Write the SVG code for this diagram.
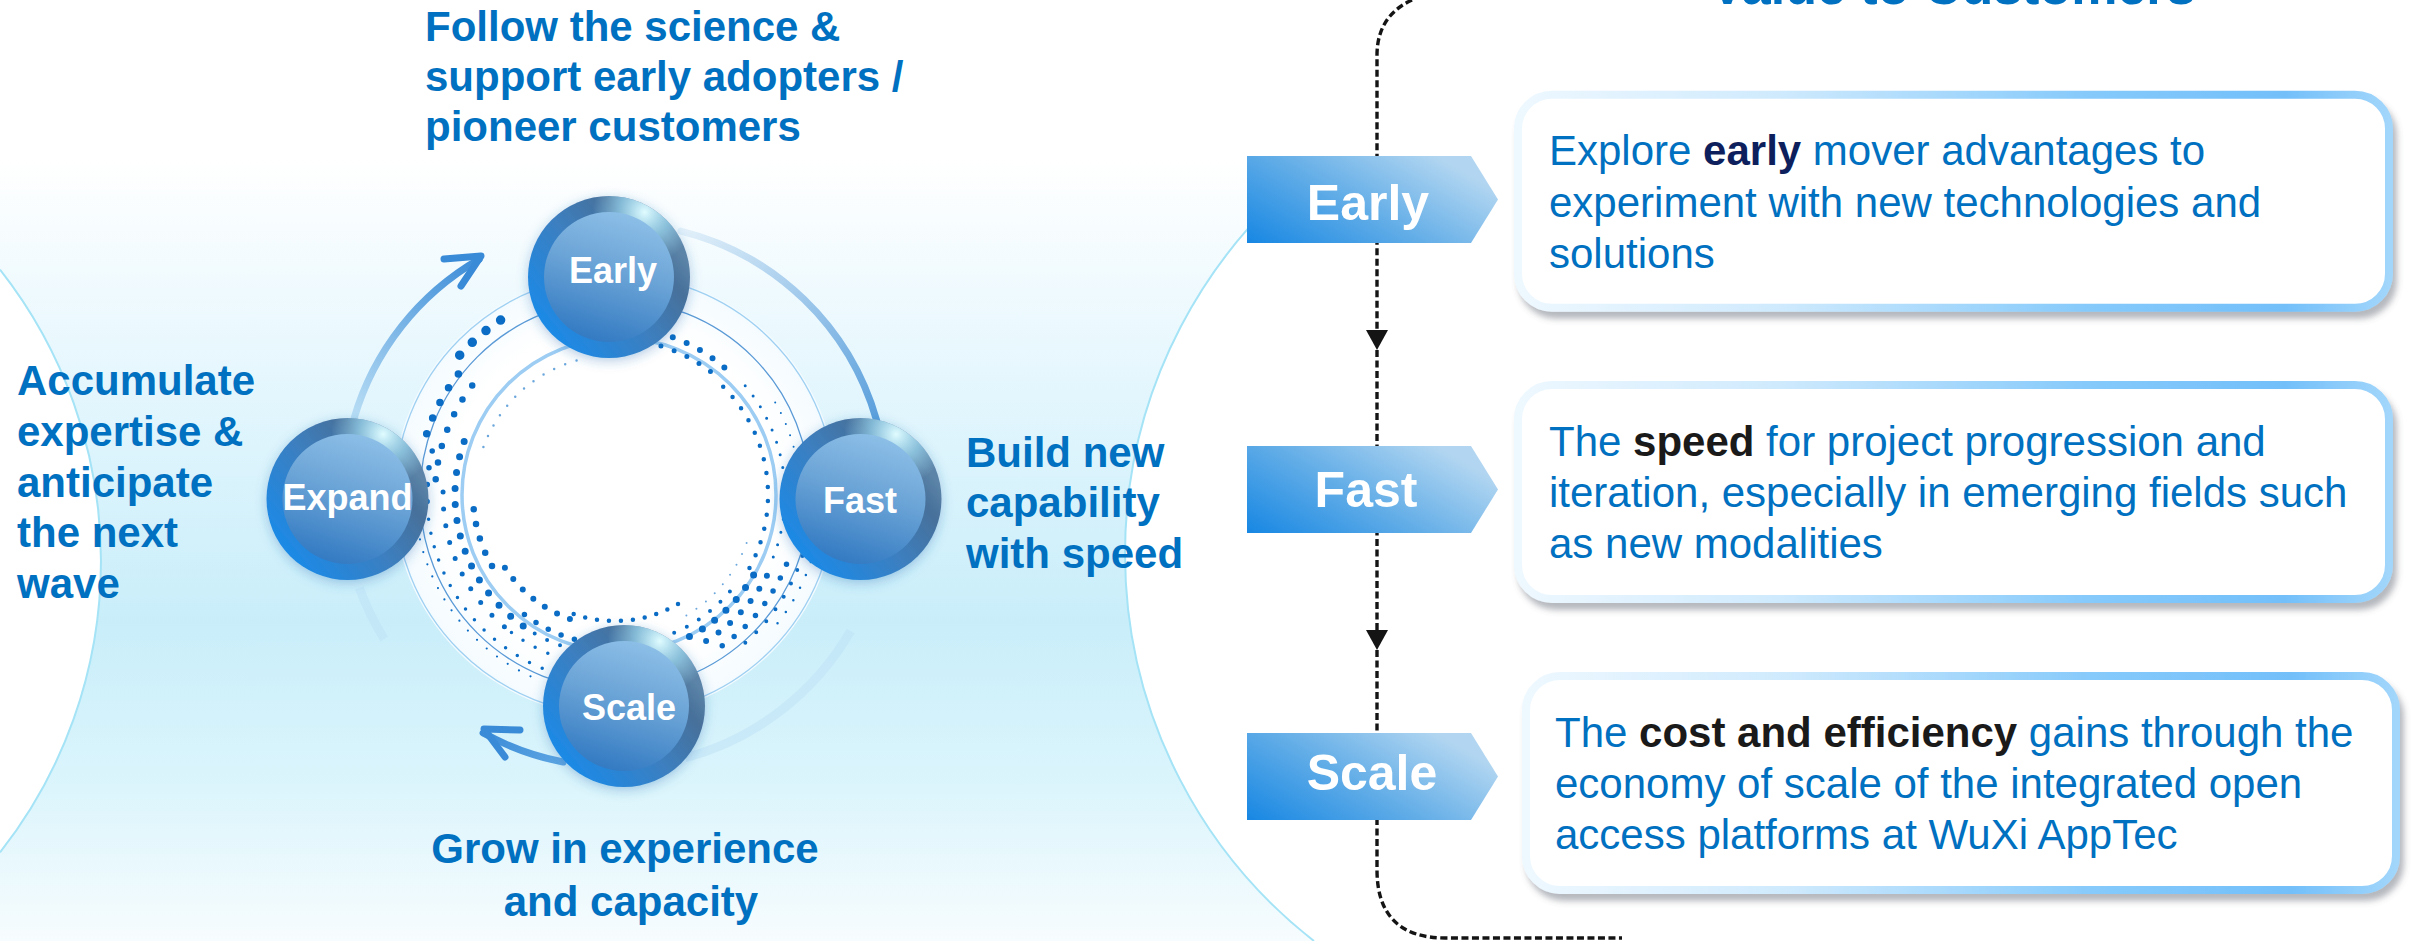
<svg xmlns="http://www.w3.org/2000/svg" width="2415" height="941" viewBox="0 0 2415 941">
<defs>
<style>
.t{font-family:"Liberation Sans",Arial,sans-serif;font-size:42px;font-weight:bold;fill:#0070c0}
.ball{font-family:"Liberation Sans",Arial,sans-serif;font-size:36px;font-weight:bold;fill:#ffffff;text-anchor:middle}
.chevt{font-family:"Liberation Sans",Arial,sans-serif;font-size:50px;font-weight:bold;fill:#ffffff;text-anchor:middle}
.box{font-family:"Liberation Sans",Arial,sans-serif;font-size:42px;fill:#0070c0}
.bn{font-weight:bold;fill:#0d1f5c}
.bk{font-weight:bold;fill:#1a1a1a}
.dots{fill:none;stroke:#0a6cc4;stroke-linecap:round}
.ring{fill:none}
.card{fill:#ffffff;stroke:url(#border);stroke-width:8}
.dash{fill:none;stroke:#141414;stroke-width:3.4;stroke-dasharray:7 3.5}
.head{fill:#141414}
.arr{fill:none;stroke-width:7;stroke-linecap:round;stroke-linejoin:round}
.edge{fill:none;stroke:#a5e3f6;stroke-width:2}
</style>
<linearGradient id="bgGrad" x1="0" y1="0" x2="0" y2="941" gradientUnits="userSpaceOnUse">
<stop offset="0" stop-color="#ffffff"/>
<stop offset="0.17" stop-color="#ffffff"/>
<stop offset="0.42" stop-color="#e3f6fd"/>
<stop offset="0.66" stop-color="#c9eefa"/>
<stop offset="0.84" stop-color="#dcf5fc"/>
<stop offset="1" stop-color="#f7fcfe"/>
</linearGradient>
<radialGradient id="disc" cx="0.5" cy="0.5" r="0.5">
<stop offset="0.75" stop-color="#ffffff"/>
<stop offset="1" stop-color="#f4fbff"/>
</radialGradient>
<linearGradient id="rim" x1="0.15" y1="0.9" x2="0.9" y2="0.3">
<stop offset="0" stop-color="#1a8ae8"/>
<stop offset="0.5" stop-color="#3c7fc0"/>
<stop offset="0.85" stop-color="#47709a"/>
<stop offset="1" stop-color="#5c84a8"/>
</linearGradient>
<radialGradient id="hl" cx="0.72" cy="0.1" r="0.32">
<stop offset="0" stop-color="#e0fcff" stop-opacity="1"/>
<stop offset="0.5" stop-color="#a8e6fb" stop-opacity="0.6"/>
<stop offset="1" stop-color="#a8e6fb" stop-opacity="0"/>
</radialGradient>
<linearGradient id="core" x1="0.65" y1="0" x2="0.35" y2="1">
<stop offset="0" stop-color="#8ec0e8"/>
<stop offset="0.45" stop-color="#6aa3d6"/>
<stop offset="1" stop-color="#3179c2"/>
</linearGradient>
<linearGradient id="chev" x1="0" y1="1" x2="1" y2="0.4">
<stop offset="0" stop-color="#1787e3"/>
<stop offset="0.5" stop-color="#60ace7"/>
<stop offset="1" stop-color="#b2d6f1"/>
</linearGradient>
<linearGradient id="border" x1="0" y1="0" x2="1" y2="0">
<stop offset="0" stop-color="#eef8ff"/>
<stop offset="0.3" stop-color="#cfeafd"/>
<stop offset="0.65" stop-color="#86cafb"/>
<stop offset="0.88" stop-color="#72bffa"/>
<stop offset="1" stop-color="#a2d6fb"/>
</linearGradient>
<linearGradient id="arrL" x1="354" y1="418" x2="480" y2="258" gradientUnits="userSpaceOnUse">
<stop offset="0" stop-color="#b9def5"/>
<stop offset="1" stop-color="#3a8bd7"/>
</linearGradient>
<linearGradient id="arrR" x1="681" y1="231" x2="876" y2="420" gradientUnits="userSpaceOnUse">
<stop offset="0" stop-color="#e3f1fa"/>
<stop offset="1" stop-color="#5a9fdc"/>
</linearGradient>
<linearGradient id="arrB" x1="563" y1="762" x2="483" y2="733" gradientUnits="userSpaceOnUse">
<stop offset="0" stop-color="#5fa6e3"/>
<stop offset="1" stop-color="#3a8bd7"/>
</linearGradient>
<filter id="ballGlow" x="-30%" y="-30%" width="160%" height="160%">
<feDropShadow dx="0" dy="3" stdDeviation="6" flood-color="#2a6fb5" flood-opacity="0.35"/>
</filter>
<filter id="boxShadow" x="-5%" y="-10%" width="112%" height="130%">
<feDropShadow dx="4" dy="7" stdDeviation="3" flood-color="#5a6470" flood-opacity="0.45"/>
</filter>
</defs>

<g id="background">
<rect x="0" y="0" width="2415" height="941" fill="url(#bgGrad)"/>
<path fill="#ffffff" d="M1315,166 A491,491 0 0 0 1314,941 L2415,941 L2415,0 L1315,0 Z"/>
<path class="edge" d="M1315,166 A491,491 0 0 0 1314,941"/>
<path fill="#ffffff" d="M0,269.6 A471,471 0 0 1 0,852.4 Z"/>
<path class="edge" d="M0,269.6 A471,471 0 0 1 0,852.4"/>
</g>

<g id="ring-system">
<circle cx="615" cy="495" r="222" fill="url(#disc)"/>
<circle class="ring" cx="615" cy="495" r="220" stroke="#9fd0f2" stroke-width="1.3"/>
<circle class="ring" cx="615" cy="495" r="195" stroke="#5a9ad6" stroke-width="1.3"/>
<circle class="ring" cx="619" cy="495" r="157" stroke="#9dcdf3" stroke-width="3.5"/>
<path class="dots" stroke-width="9.5" stroke-dasharray="0 18" d="M459.7,355.2 A209,209 0 0 1 510.5,314"/>
<path class="dots" stroke-width="7.5" stroke-dasharray="0 17" d="M426.7,433.8 A198,198 0 0 1 467.9,362.5"/>
<path class="dots" stroke-width="5.5" stroke-dasharray="0 17" d="M427.1,501.6 A188,188 0 0 1 436.2,436.9"/>
<path class="dots" stroke-width="6.5" stroke-dasharray="0 17" d="M435.7,479.3 A180,180 0 0 1 481.2,374.6"/>
<path class="dots" stroke-width="5" stroke-dasharray="0 17" d="M504.4,626.8 A172,172 0 0 1 443.7,480"/>
<path class="dots" stroke-width="7" stroke-dasharray="0 16" d="M523.2,626.1 A160,160 0 0 1 464.6,440.3"/>
<path class="dots" stroke-width="6.5" stroke-dasharray="0 15" d="M492,566 A142,142 0 0 1 473.1,500"/>
<path class="dots" stroke-width="6" stroke-dasharray="0 14" d="M569.9,619 A132,132 0 0 1 500.7,561"/>
<path class="dots" stroke-width="4.5" stroke-dasharray="0 12" d="M678,604.1 A126,126 0 0 1 571.9,613.4"/>
<path class="dots" stroke-width="3.5" stroke-dasharray="0 14" d="M582.4,680.1 A188,188 0 0 1 427.7,511.4"/>
<path class="dots" stroke-width="2.2" stroke-dasharray="0 13" d="M530.5,676.3 A200,200 0 0 1 418,529.7"/>
<path class="dots" stroke-width="5.5" stroke-dasharray="0 14" d="M601.9,644.4 A150,150 0 0 1 518.6,609.9"/>
<path class="dots" stroke-width="4" stroke-dasharray="0 14" d="M642.8,652.6 A160,160 0 0 1 523.2,626.1"/>
<path class="dots" stroke-width="3.5" stroke-dasharray="0 14" d="M630,666.3 A172,172 0 0 1 504.4,626.8"/>
<path class="dots" stroke-width="7" stroke-dasharray="0 15" d="M753.6,575 A160,160 0 0 1 682.6,640"/>
<path class="dots" stroke-width="6" stroke-dasharray="0 15" d="M766.9,575.8 A172,172 0 0 1 695.8,646.9"/>
<path class="dots" stroke-width="5.5" stroke-dasharray="0 15" d="M786.5,564.3 A185,185 0 0 1 713,651.9"/>
<path class="dots" stroke-width="4" stroke-dasharray="0 15" d="M802.4,555.9 A197,197 0 0 1 741.6,645.9"/>
<path class="dots" stroke-width="2.5" stroke-dasharray="0 14" d="M814.9,548.6 A207,207 0 0 1 773.6,628.1"/>
<path class="dots" stroke-width="4" stroke-dasharray="0 14" d="M729.9,591.4 A150,150 0 0 1 666.3,636"/>
<path class="dots" stroke-width="4.5" stroke-dasharray="0 14" d="M723.2,386.8 A153,153 0 0 1 747.5,571.5"/>
<path class="dots" stroke-width="3" stroke-dasharray="0 13" d="M745.2,385.7 A170,170 0 0 1 769.1,566.8"/>
<path class="dots" stroke-width="2" stroke-dasharray="0 12" d="M775.2,402.5 A185,185 0 0 1 791,552.2"/>
<path class="dots" stroke-width="6" stroke-dasharray="0 15" d="M658.5,332.7 A168,168 0 0 1 733.8,376.2"/>
<path class="dots" stroke-width="5" stroke-dasharray="0 14" d="M647.4,342.4 A156,156 0 0 1 715.3,375.5"/>
<path class="dots" stroke-width="2.5" stroke-dasharray="0 12" stroke-opacity="0.6" d="M483.4,447.1 A140,140 0 0 1 578.8,359.8"/>
<path class="dots" stroke-width="2" stroke-dasharray="0 12" stroke-opacity="0.6" d="M746.6,542.9 A140,140 0 0 1 685,616.2"/>
</g>

<g id="connectors">
<path d="M685.4,757.7 A272,272 0 0 0 850.6,631" fill="none" stroke="#bfe1f5" stroke-width="9" stroke-opacity="0.55"/>
<path d="M359.4,588 A272,272 0 0 0 384.3,639.1" fill="none" stroke="#bfe1f5" stroke-width="9" stroke-opacity="0.55"/>
<path class="arr" stroke="url(#arrL)" d="M354.1,418.2 A272,272 0 0 1 479,259.4"/>
<path class="arr" stroke="#3a8bd7" d="M444,259 L481,256 L461,286"/>
<path class="arr" stroke="url(#arrR)" d="M680.8,231.1 A272,272 0 0 1 876.5,420"/>
<path class="arr" stroke="url(#arrB)" d="M563.1,762 A272,272 0 0 1 483.1,732.9"/>
<path class="arr" stroke="#3a8bd7" d="M520,730 L484,729 L505,757"/>
<path class="dash" d="M1412,0 C1390,10 1377,28 1377,55 L1377,332"/>
<polygon class="head" points="1366,330 1388,330 1377,350"/>
<path class="dash" d="M1377,350 L1377,632"/>
<polygon class="head" points="1366,630 1388,630 1377,650"/>
<path class="dash" d="M1377,650 L1377,870 C1377,915 1400,938 1445,938 L1622,938"/>
</g>

<g id="node-early">
<circle cx="609" cy="277" r="81" fill="url(#rim)" filter="url(#ballGlow)"/>
<circle cx="609" cy="277" r="81" fill="url(#hl)"/>
<circle cx="609" cy="277" r="65" fill="url(#core)"/>
<text class="ball" x="613" y="283">Early</text>
</g>
<g id="node-expand">
<circle cx="347.5" cy="499" r="81" fill="url(#rim)" filter="url(#ballGlow)"/>
<circle cx="347.5" cy="499" r="81" fill="url(#hl)"/>
<circle cx="347.5" cy="499" r="65" fill="url(#core)"/>
<text class="ball" x="347.5" y="510">Expand</text>
</g>
<g id="node-fast">
<circle cx="860.5" cy="499" r="81" fill="url(#rim)" filter="url(#ballGlow)"/>
<circle cx="860.5" cy="499" r="81" fill="url(#hl)"/>
<circle cx="860.5" cy="499" r="65" fill="url(#core)"/>
<text class="ball" x="860" y="513">Fast</text>
</g>
<g id="node-scale">
<circle cx="624" cy="706" r="81" fill="url(#rim)" filter="url(#ballGlow)"/>
<circle cx="624" cy="706" r="81" fill="url(#hl)"/>
<circle cx="624" cy="706" r="65" fill="url(#core)"/>
<text class="ball" x="629" y="720">Scale</text>
</g>

<g id="label-early">
<text class="t" x="425" y="41">Follow the science &amp;</text>
<text class="t" x="425" y="91">support early adopters /</text>
<text class="t" x="425" y="141">pioneer customers</text>
</g>
<g id="label-fast">
<text class="t" x="966" y="467">Build new</text>
<text class="t" x="966" y="517">capability</text>
<text class="t" x="966" y="568">with speed</text>
</g>
<g id="label-expand">
<text class="t" x="17" y="395">Accumulate</text>
<text class="t" x="17" y="446">expertise &amp;</text>
<text class="t" x="17" y="497">anticipate</text>
<text class="t" x="17" y="547">the next</text>
<text class="t" x="17" y="598">wave</text>
</g>
<g id="label-scale">
<text class="t" x="625" y="863" text-anchor="middle">Grow in experience</text>
<text class="t" x="631" y="916" text-anchor="middle">and capacity</text>
</g>

<g id="title">
<text x="1710" y="4" style="font-family:'Liberation Sans',Arial,sans-serif;font-size:52px;font-weight:bold;fill:#0070c0">Value to Customers</text>
</g>

<g id="chevron-early">
<polygon points="1247,156 1471,156 1498,199.5 1471,243 1247,243" fill="url(#chev)"/>
<text class="chevt" x="1368" y="220">Early</text>
</g>
<g id="chevron-fast">
<polygon points="1247,446 1471,446 1498,489.5 1471,533 1247,533" fill="url(#chev)"/>
<text class="chevt" x="1366" y="507">Fast</text>
</g>
<g id="chevron-scale">
<polygon points="1247,733 1471,733 1498,776.5 1471,820 1247,820" fill="url(#chev)"/>
<text class="chevt" x="1372" y="790">Scale</text>
</g>

<g id="box-early">
<rect class="card" x="1518" y="94.7" width="871" height="213" rx="34" filter="url(#boxShadow)"/>
<text class="box" x="1549" y="165">Explore <tspan class="bn">early</tspan> mover advantages to</text>
<text class="box" x="1549" y="217">experiment with new technologies and</text>
<text class="box" x="1549" y="268">solutions</text>
</g>
<g id="box-fast">
<rect class="card" x="1518" y="385" width="871" height="214" rx="34" filter="url(#boxShadow)"/>
<text class="box" x="1549" y="456">The <tspan class="bk">speed</tspan> for project progression and</text>
<text class="box" x="1549" y="507">iteration, especially in emerging fields such</text>
<text class="box" x="1549" y="558">as new modalities</text>
</g>
<g id="box-scale">
<rect class="card" x="1526" y="676" width="870" height="214" rx="34" filter="url(#boxShadow)"/>
<text class="box" x="1555" y="747">The <tspan class="bk">cost and efficiency</tspan> gains through the</text>
<text class="box" x="1555" y="798">economy of scale of the integrated open</text>
<text class="box" x="1555" y="849">access platforms at WuXi AppTec</text>
</g>
</svg>
